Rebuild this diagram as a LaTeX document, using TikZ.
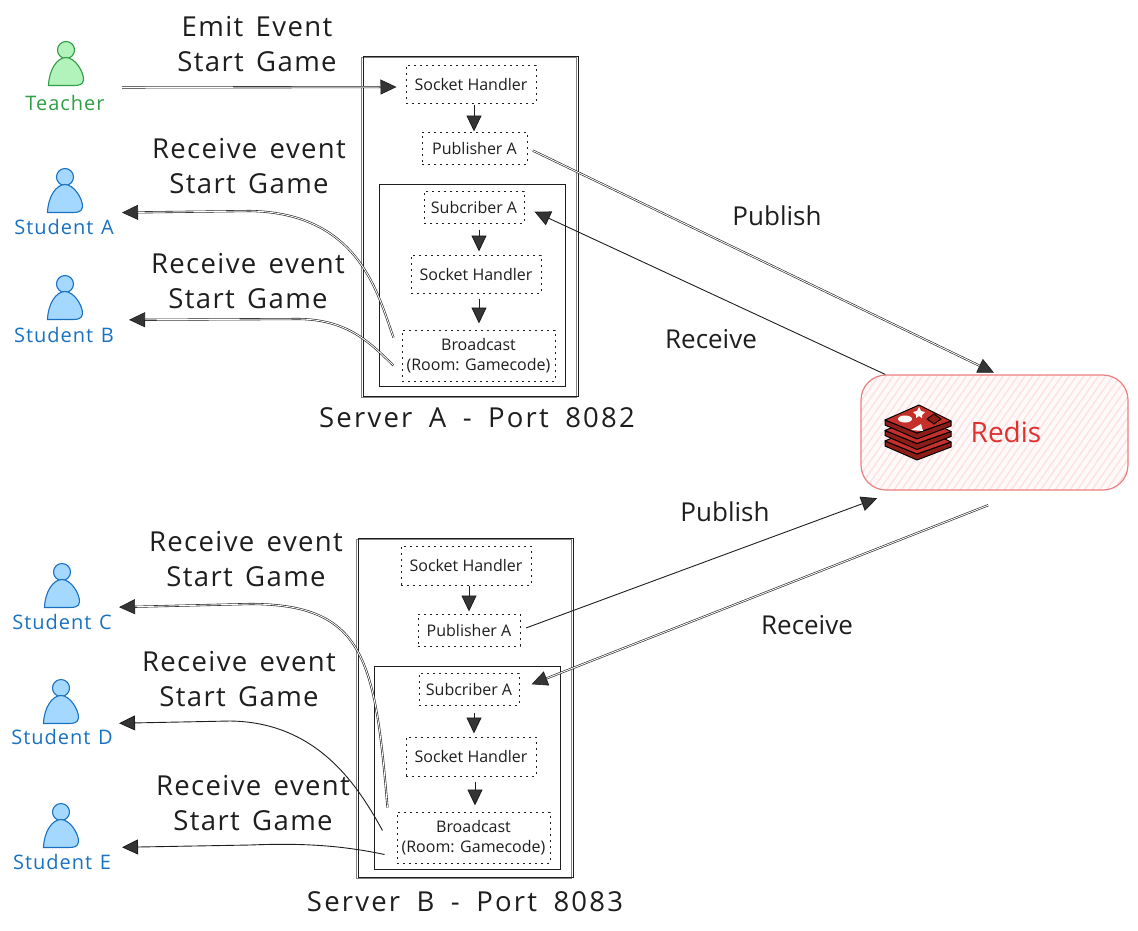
\documentclass[tikz,border=0pt]{standalone}
\usepackage{fontspec}
\setmainfont{Open Sans}
\usetikzlibrary{arrows.meta,patterns.meta,shapes.geometric}
\definecolor{ink}{HTML}{1E1E1E}
\definecolor{greenS}{HTML}{2F9E44}
\definecolor{greenF}{HTML}{B2F2BB}
\definecolor{blueS}{HTML}{1971C2}
\definecolor{blueF}{HTML}{A5D8FF}
\definecolor{redisS}{HTML}{EB7F7F}
\definecolor{redisT}{HTML}{E03131}
\definecolor{redisH}{HTML}{FFE3E3}
\definecolor{brick}{HTML}{C6302B}
\definecolor{brickD}{HTML}{8F1D17}
\newcommand{\spaced}[2]{\addfontfeatures{LetterSpace=#1}\spaceskip=#2em\relax}
\tikzset{
  x=1pt,y=-1pt,
  tip/.style={-{Triangle[length=16pt,width=15pt,fill=ink!90,color=ink]}},
  conn/.style={draw=ink,line width=.9pt,tip},
  twin/.style={conn,double=white,double distance=.9pt,line width=.6pt},
  frame/.style={draw=ink,line width=1pt,inner sep=0pt,minimum width=#1},
  sketched/.style={postaction={draw=ink,draw opacity=.55,line width=.7pt,transform canvas={shift={(-1.2pt,-1.2pt)}}}},
  hbox/.style={draw=ink,line width=1pt,dash pattern=on 1.6pt off 4.4pt,inner sep=0pt,
     align=center,text=ink,font=\fontsize{16}{20}\selectfont},
  biglabel/.style={align=center,text=ink,inner sep=0pt,font=\fontsize{27.5}{35}\selectfont\spaced{5}{.45}},
  midlabel/.style={text=ink,inner sep=0pt,font=\fontsize{26}{28}\selectfont},
  srvlabel/.style={text=ink,inner sep=0pt,font=\fontsize{27.5}{28}\selectfont\spaced{8}{.6}},
  who/.style={inner sep=0pt,font=\fontsize{20}{22}\selectfont\spaced{5}{.38}},
  greenwho/.style={who,text=greenS},
  bluewho/.style={who,text=blueS},
  greenman/.style={draw=greenS,fill=greenF,line width=1.1pt},
  blueman/.style={draw=blueS,fill=blueF,line width=1.1pt},
  person/.pic={
    \path[pic actions] (0,0) circle[radius=8.5];
    \path[pic actions] (-17.5,35.5) .. controls (-17,20) and (-9,7.5) .. (0,7.5)
        .. controls (9,7.5) and (18,22) .. (17.5,30)
        .. controls (17,35) and (12,35.5) .. (8,35.5) -- cycle;
    \node[inner sep=0pt,minimum width=35pt,minimum height=28pt] (-body) at (0,21.5) {};
  },
  brickface/.style={fill=brick,draw=black,line width=1pt,line join=round},
  brickside/.style={fill=brickD,draw=black,line width=1pt,line join=round},
}
\begin{document}
\begin{tikzpicture}
\useasboundingbox (0,0) rectangle (1138,930);

% people
\pic[greenman] (teacher) at (66,50) {person};
\pic[blueman] (stuA) at (65,177) {person};
\pic[blueman] (stuB) at (65,284) {person};
\pic[blueman] (stuC) at (62,572) {person};
\pic[blueman] (stuD) at (61,688) {person};
\pic[blueman] (stuE) at (61,812) {person};
\node[greenwho] (teacherL) at (65,103) {Teacher};
\node[bluewho] (stuAL) at (64,227) {Student A};
\node[bluewho] (stuBL) at (64,335) {Student B};
\node[bluewho] (stuCL) at (62,622) {Student C};
\node[bluewho] (stuDL) at (62,737) {Student D};
\node[bluewho] (stuEL) at (62,862) {Student E};

% server A
\node[frame=215pt,minimum height=340pt,sketched] (srvA) at (470.5,226) {};
\node[frame=186pt,minimum height=202pt] (innerA) at (472,285) {};
\node[hbox,minimum width=130pt,minimum height=38pt] (sockA) at (471,84) {Socket Handler};
\node[hbox,minimum width=105pt,minimum height=32pt] (pubA) at (474.5,148) {Publisher A};
\node[hbox,minimum width=100pt,minimum height=32pt] (subA) at (474,207) {Subcriber A};
\node[hbox,minimum width=130pt,minimum height=38pt] (handA) at (476,274) {Socket Handler};
\node[hbox,minimum width=153pt,minimum height=51pt] (castA) at (478.5,355.5) {Broadcast\\(Room: Gamecode)};
\node[srvlabel] (srvAL) at (477,418) {Server A - Port 8082};

% server B
\node[frame=215pt,minimum height=339pt,sketched] (srvB) at (465.5,707.5) {};
\node[frame=186pt,minimum height=203pt] (innerB) at (467,767.5) {};
\node[hbox,minimum width=130pt,minimum height=39pt] (sockB) at (466,565.5) {Socket Handler};
\node[hbox,minimum width=102pt,minimum height=32pt] (pubB) at (469,630) {Publisher A};
\node[hbox,minimum width=100pt,minimum height=32pt] (subB) at (469,689) {Subcriber A};
\node[hbox,minimum width=130pt,minimum height=39pt] (handB) at (471,756.5) {Socket Handler};
\node[hbox,minimum width=153pt,minimum height=51pt] (castB) at (473.5,837.5) {Broadcast\\(Room: Gamecode)};
\node[srvlabel] (srvBL) at (465,902) {Server B - Port 8083};

% redis
\node[draw=redisS,line width=1.2pt,rounded corners=25pt,minimum width=267pt,minimum height=115pt,inner sep=0pt,
      preaction={fill=red!2},
      preaction={pattern={Lines[angle=55,distance=6pt,line width=1.6pt]},pattern color=redisH}] (redis) at (994.5,432.5) {};
\node[inner sep=0pt,text=redisT,font=\fontsize{28}{30}\selectfont] (redisL) at (1006,432) {Redis};
\foreach \dy in {21,10.5,0}{
  \begin{scope}[yshift=-\dy pt]
    \path[brickside] (885,420) -- (885,425) -- (917,439) -- (951,426) -- (951,421) -- (917,433) -- cycle;
    \path[brickface] (919,405) -- (951,421) -- (917,433) -- (885,420) -- cycle;
  \end{scope}
}
\fill[white] (905,419) ellipse[x radius=7,y radius=3.5];
\fill[white] (919,407) -- (921,411) -- (925,412) -- (922,415) -- (922,418) -- (919,416) -- (916,418) -- (916,415) -- (913,412) -- (917,411) -- cycle;
\fill[white] (921,424) -- (923,431) -- (911,430) -- cycle;
\draw[black,line width=.9pt,fill=brickD] (934,414) -- (941,419) -- (934,424) -- (927,419) -- cycle;

% arrows in server A
\draw[conn] ([xshift=3pt,yshift=-1pt]sockA.south) -- ([xshift=-.5pt]pubA.north);
\draw[conn] ([xshift=5pt,yshift=-6pt]subA.south) -- ([xshift=3pt,yshift=3pt]handA.north);
\draw[conn] ([xshift=3pt,yshift=-5pt]handA.south) -- ([xshift=.5pt,yshift=6pt]castA.north);
% arrows in server B
\draw[conn] ([xshift=3pt]sockB.south) -- ([yshift=2pt]pubB.north);
\draw[conn] ([xshift=5pt,yshift=-7pt]subB.south) -- ([xshift=3pt,yshift=3pt]handB.north);
\draw[conn] ([xshift=4pt,yshift=-5pt]handB.south) -- ([xshift=1.5pt,yshift=6pt]castB.north);

% teacher
\draw[twin,shorten <=38pt,shorten >=9pt] ([yshift=-1.5pt]teacher-body.south east) -- ([yshift=-3pt]sockA.west);

% redis links
\draw[twin,shorten <=6pt,shorten >=4pt] (pubA.east) -- (redis.87.5);
\draw[conn,shorten >=11pt] (redis.152.5) -- (subA.east);
\draw[conn,shorten <=6pt,shorten >=22pt] (pubB.east) -- (redis.211.6);
\draw[twin,shorten <=40pt,shorten >=13pt] (redis.298.7) -- (subB.east);

% students from broadcast A
\draw[twin,shorten >=39pt] ([xshift=-8pt,yshift=18pt]castA.west) .. controls (378,295) and (360,213) .. (250,211) -- (stuA-body.south east);
\draw[twin,shorten >=46pt] ([xshift=-8pt,yshift=-10pt]castA.west) .. controls (372,345) and (350,320) .. (300,319) -- (stuB-body.south east);
% students from broadcast B
\draw[twin,shorten >=39pt] ([xshift=-9pt,yshift=30pt]castB.west) .. controls (375,660) and (365,604) .. (250,604) -- (stuC-body.south east);
\draw[conn,shorten >=40pt] ([xshift=-14pt,yshift=7pt]castB.west) .. controls (360,790) and (320,722) .. (230,721) -- (stuD-body.south east);
\draw[conn,shorten >=43pt] ([xshift=-12pt,yshift=-17pt]castB.west) .. controls (340,845) and (300,843) .. (250,845) -- (stuE-body.south east);

% labels
\node[biglabel] (lbA) at (257,44) {Emit Event\\Start Game};
\node[biglabel] (lbB) at (249,166.5) {Receive event\\Start Game};
\node[biglabel] (lbC) at (248,281.5) {Receive event\\Start Game};
\node[biglabel] (lbD) at (246,559.5) {Receive event\\Start Game};
\node[biglabel] (lbE) at (239,679.5) {Receive event\\Start Game};
\node[biglabel] (lbF) at (253,803.5) {Receive event\\Start Game};
\node[midlabel] (lbG) at (777,216) {Publish};
\node[midlabel] (lbH) at (711,339) {Receive};
\node[midlabel] (lbI) at (725,512) {Publish};
\node[midlabel] (lbJ) at (807,625) {Receive};
\end{tikzpicture}
\end{document}
